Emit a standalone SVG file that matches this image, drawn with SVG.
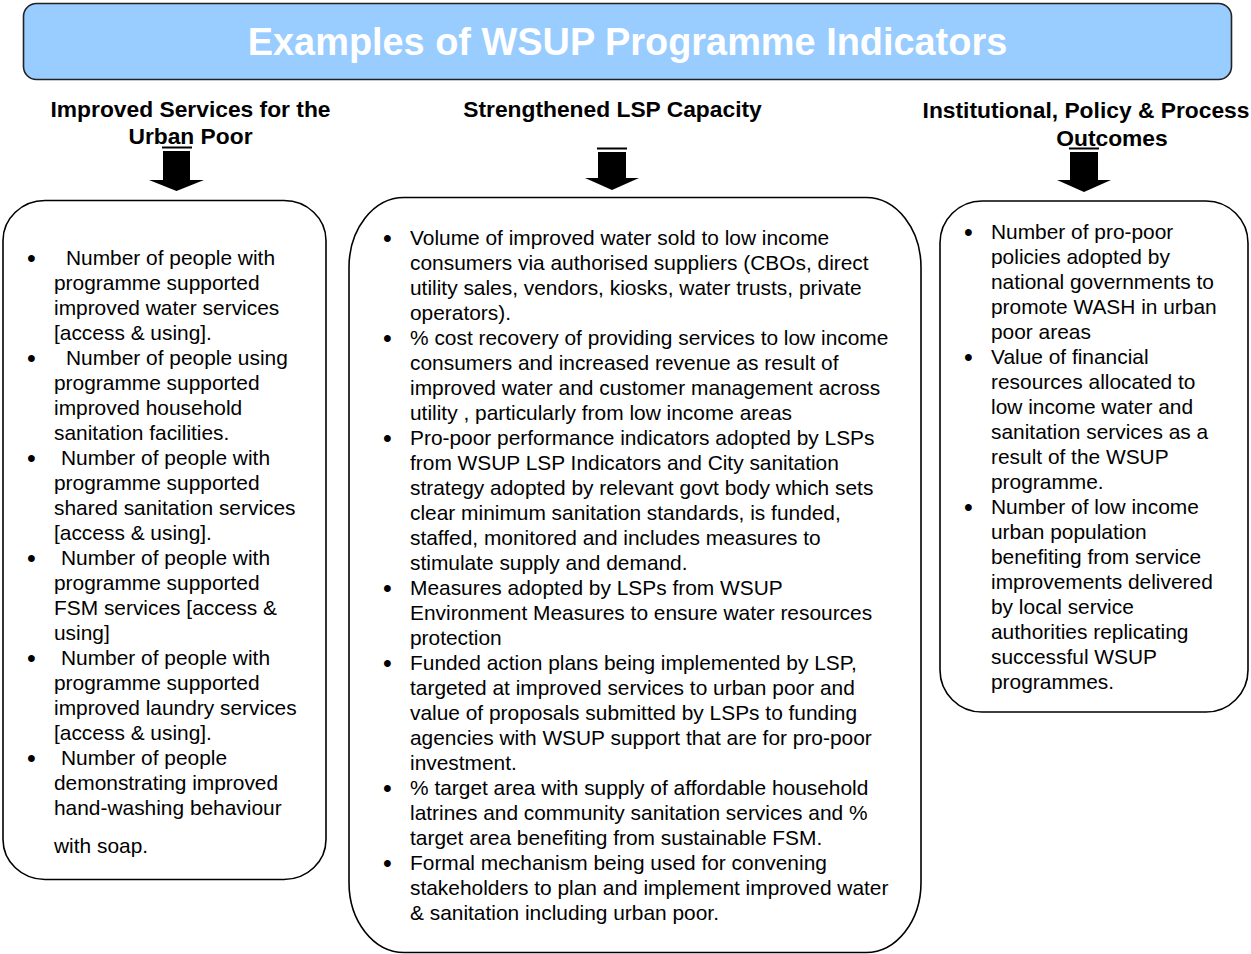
<svg xmlns="http://www.w3.org/2000/svg" width="1251" height="954" viewBox="0 0 1251 954">
<style>
.box{fill:#fff;stroke:#000;stroke-width:1.6}
.title{font-family:"Liberation Sans",Arial,sans-serif;font-weight:bold;font-size:37.9px;fill:#fff}
.hd{font-family:"Liberation Sans",Arial,sans-serif;font-weight:bold;font-size:22.8px;fill:#000;text-anchor:middle}
.bt{font-family:"Liberation Sans",Arial,sans-serif;font-size:20.9px;fill:#000}
.bu{font-size:25px}
.arr{fill:#000}
.bar{stroke:#000;stroke-width:2}
</style>
<rect width="1251" height="954" fill="#fff"/>
<g id="title">
<rect x="23.5" y="3.5" width="1208" height="76" rx="13" fill="#99CCFF" stroke="#222" stroke-width="1.6"/>
<text class="title" x="627.5" y="55" text-anchor="middle">Examples of WSUP Programme Indicators</text>
</g>
<g id="head-left">
<text class="hd" x="190.5" y="117">Improved Services for the</text>
<text class="hd" x="190.5" y="144">Urban Poor</text>
</g>
<g id="head-mid">
<text class="hd" x="612.5" y="117">Strengthened LSP Capacity</text>
</g>
<g id="head-right">
<text class="hd" x="1086" y="118">Institutional, Policy &amp; Process</text>
<text class="hd" x="1112" y="146">Outcomes</text>
</g>
<g id="connectors">
<line class="bar" x1="162" y1="147.5" x2="192" y2="147.5"/>
<polygon class="arr" points="163,151 190,151 190,180 204,180 176.5,191 149,180 163,180"/>
<line class="bar" x1="597" y1="148.5" x2="627" y2="148.5"/>
<polygon class="arr" points="598,152 626,152 626,178 639,178 612,190 585,178 598,178"/>
<line class="bar" x1="1069" y1="148.5" x2="1099" y2="148.5"/>
<polygon class="arr" points="1070,152 1098,152 1098,180 1111,180 1084,192 1057,180 1070,180"/>
</g>
<g id="box-left">
<rect class="box" x="3" y="200.5" width="323" height="679" rx="42" ry="40"/>
<g class="bt">
<text class="bu" x="27" y="266.5">•</text>
<text x="66" y="265">Number of people with</text>
<text x="54" y="290">programme supported</text>
<text x="54" y="315">improved water services</text>
<text x="54" y="340">[access &amp; using].</text>
<text class="bu" x="27" y="366.5">•</text>
<text x="66" y="365">Number of people using</text>
<text x="54" y="390">programme supported</text>
<text x="54" y="415">improved household</text>
<text x="54" y="440">sanitation facilities.</text>
<text class="bu" x="27" y="466.5">•</text>
<text x="61" y="465">Number of people with</text>
<text x="54" y="490">programme supported</text>
<text x="54" y="515">shared sanitation services</text>
<text x="54" y="540">[access &amp; using].</text>
<text class="bu" x="27" y="566.5">•</text>
<text x="61" y="565">Number of people with</text>
<text x="54" y="590">programme supported</text>
<text x="54" y="615">FSM services [access &amp;</text>
<text x="54" y="640">using]</text>
<text class="bu" x="27" y="666.5">•</text>
<text x="61" y="665">Number of people with</text>
<text x="54" y="690">programme supported</text>
<text x="54" y="715">improved laundry services</text>
<text x="54" y="740">[access &amp; using].</text>
<text class="bu" x="27" y="766.5">•</text>
<text x="61" y="765">Number of people</text>
<text x="54" y="790">demonstrating improved</text>
<text x="54" y="815">hand-washing behaviour</text>
<text x="54" y="853">with soap.</text>
</g>
</g>
<g id="box-mid">
<rect class="box" x="349" y="197.5" width="572" height="755" rx="55" ry="70"/>
<g class="bt">
<text class="bu" x="383" y="246.5">•</text>
<text x="410" y="245">Volume of improved water sold to low income</text>
<text x="410" y="270">consumers via authorised suppliers (CBOs, direct</text>
<text x="410" y="295">utility sales, vendors, kiosks, water trusts, private</text>
<text x="410" y="320">operators).</text>
<text class="bu" x="383" y="346.5">•</text>
<text x="410" y="345">% cost recovery of providing services to low income</text>
<text x="410" y="370">consumers and increased revenue as result of</text>
<text x="410" y="395">improved water and customer management across</text>
<text x="410" y="420">utility , particularly from low income areas</text>
<text class="bu" x="383" y="446.5">•</text>
<text x="410" y="445">Pro-poor performance indicators adopted by LSPs</text>
<text x="410" y="470">from WSUP LSP Indicators and City sanitation</text>
<text x="410" y="495">strategy adopted by relevant govt body which sets</text>
<text x="410" y="520">clear minimum sanitation standards, is funded,</text>
<text x="410" y="545">staffed, monitored and includes measures to</text>
<text x="410" y="570">stimulate supply and demand.</text>
<text class="bu" x="383" y="596.5">•</text>
<text x="410" y="595">Measures adopted by LSPs from WSUP</text>
<text x="410" y="620">Environment Measures to ensure water resources</text>
<text x="410" y="645">protection</text>
<text class="bu" x="383" y="671.5">•</text>
<text x="410" y="670">Funded action plans being implemented by LSP,</text>
<text x="410" y="695">targeted at improved services to urban poor and</text>
<text x="410" y="720">value of proposals submitted by LSPs to funding</text>
<text x="410" y="745">agencies with WSUP support that are for pro-poor</text>
<text x="410" y="770">investment.</text>
<text class="bu" x="383" y="796.5">•</text>
<text x="410" y="795">% target area with supply of affordable household</text>
<text x="410" y="820">latrines and community sanitation services and %</text>
<text x="410" y="845">target area benefiting from sustainable FSM.</text>
<text class="bu" x="383" y="871.5">•</text>
<text x="410" y="870">Formal mechanism being used for convening</text>
<text x="410" y="895">stakeholders to plan and implement improved water</text>
<text x="410" y="920">&amp; sanitation including urban poor.</text>
</g>
</g>
<g id="box-right">
<rect class="box" x="940" y="201" width="308" height="511" rx="42" ry="42"/>
<g class="bt">
<text class="bu" x="964" y="240.5">•</text>
<text x="991" y="239">Number of pro-poor</text>
<text x="991" y="264">policies adopted by</text>
<text x="991" y="289">national governments to</text>
<text x="991" y="314">promote WASH in urban</text>
<text x="991" y="339">poor areas</text>
<text class="bu" x="964" y="365.5">•</text>
<text x="991" y="364">Value of financial</text>
<text x="991" y="389">resources allocated to</text>
<text x="991" y="414">low income water and</text>
<text x="991" y="439">sanitation services as a</text>
<text x="991" y="464">result of the WSUP</text>
<text x="991" y="489">programme.</text>
<text class="bu" x="964" y="515.5">•</text>
<text x="991" y="514">Number of low income</text>
<text x="991" y="539">urban population</text>
<text x="991" y="564">benefiting from service</text>
<text x="991" y="589">improvements delivered</text>
<text x="991" y="614">by local service</text>
<text x="991" y="639">authorities replicating</text>
<text x="991" y="664">successful WSUP</text>
<text x="991" y="689">programmes.</text>
</g>
</g>
</svg>
